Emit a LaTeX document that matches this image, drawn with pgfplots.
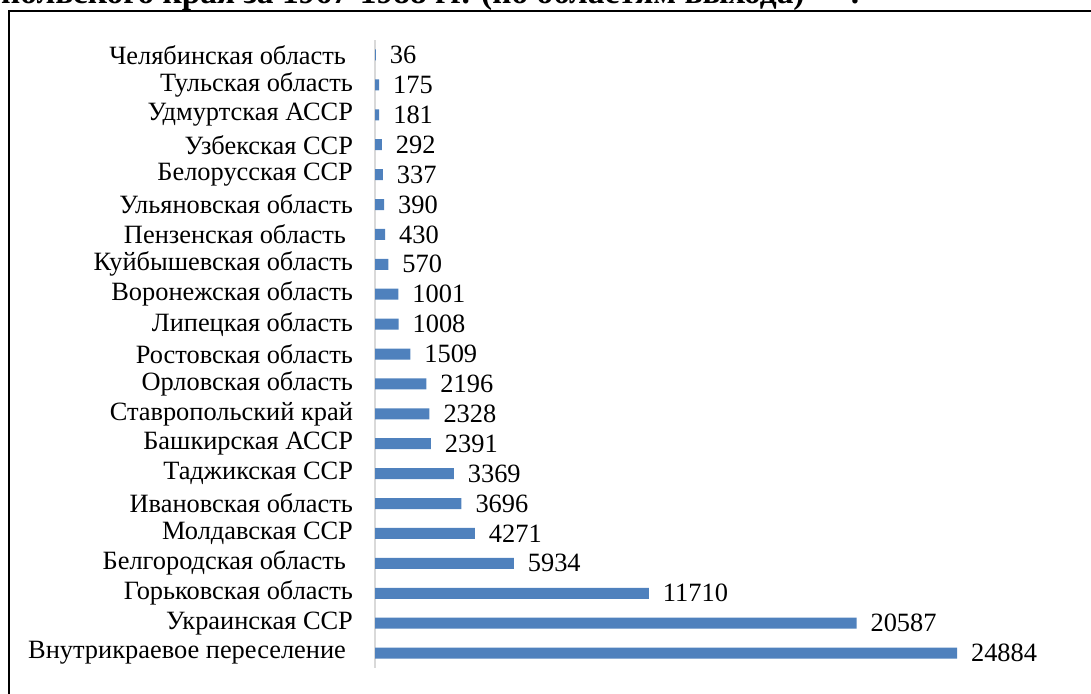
\documentclass[border=0pt]{standalone}
\usepackage{pgfplots}
\pgfplotsset{compat=1.18}
\usepackage{fontspec}
\setmainfont{Liberation Serif}
\definecolor{barblue}{HTML}{4F81BD}
\definecolor{axgray}{HTML}{D9D9D9}
\begin{document}
\begin{tikzpicture}
\path[use as bounding box] (0,0) rectangle (545.5pt,-346.5pt);
\draw[line width=0.8pt] (4.6pt,-400pt) -- (4.6pt,-5.6pt) -- (600pt,-5.6pt);
\node[anchor=base east, font=\fontsize{16.7}{18}\selectfont\bfseries, inner sep=0pt] at (402.5pt,-1.6pt) {Ставропольского края за 1967-1988 гг. (по областям выхода)};
\node[anchor=base, font=\fontsize{16.7}{18}\selectfont\bfseries, inner sep=0pt] at (427.5pt,-1.6pt) {.};
\begin{axis}[
  at={(187.5pt,-334pt)}, anchor=south west,
  scale only axis, width=337.5pt, height=314pt,
  xbar, bar width=5.5pt,
  xmin=0, xmax=28860, ymin=-0.5, ymax=20.5,
  y dir=reverse,
  ytick={0,...,20},
  yticklabels={Челябинская область\hspace*{3.5pt},Тульская область,Удмуртская АССР,Узбекская ССР,Белорусская ССР,Ульяновская область,Пензенская область\hspace*{3.5pt},Куйбышевская область,Воронежская область,Липецкая область,Ростовская область,Орловская область,Ставропольский край,Башкирская АССР,Таджикская ССР,Ивановская область,Молдавская ССР,Белгородская область\hspace*{3.5pt},Горьковская область,Украинская ССР,Внутрикраевое переселение\hspace*{3.5pt}},
  axis x line=none, axis y line=left,
  y axis line style={-, draw=axgray, line width=0.8pt},
  major tick length=0pt,
  tick label style={font=\fontsize{13.2}{15}\selectfont},
  yticklabel style={xshift=-7.5pt},
  point meta=explicit symbolic,
  nodes near coords,
  nodes near coords style={font=\fontsize{13.2}{15}\selectfont, xshift=3.5pt, anchor=west},
  clip=false,
]
\addplot[fill=barblue, draw=none] coordinates {
(36,0) [36]
(175,1) [175]
(181,2) [181]
(292,3) [292]
(337,4) [337]
(390,5) [390]
(430,6) [430]
(570,7) [570]
(1001,8) [1001]
(1008,9) [1008]
(1509,10) [1509]
(2196,11) [2196]
(2328,12) [2328]
(2391,13) [2391]
(3369,14) [3369]
(3696,15) [3696]
(4271,16) [4271]
(5934,17) [5934]
(11710,18) [11710]
(20587,19) [20587]
(24884,20) [24884]
};
\end{axis}
\end{tikzpicture}
\end{document}
